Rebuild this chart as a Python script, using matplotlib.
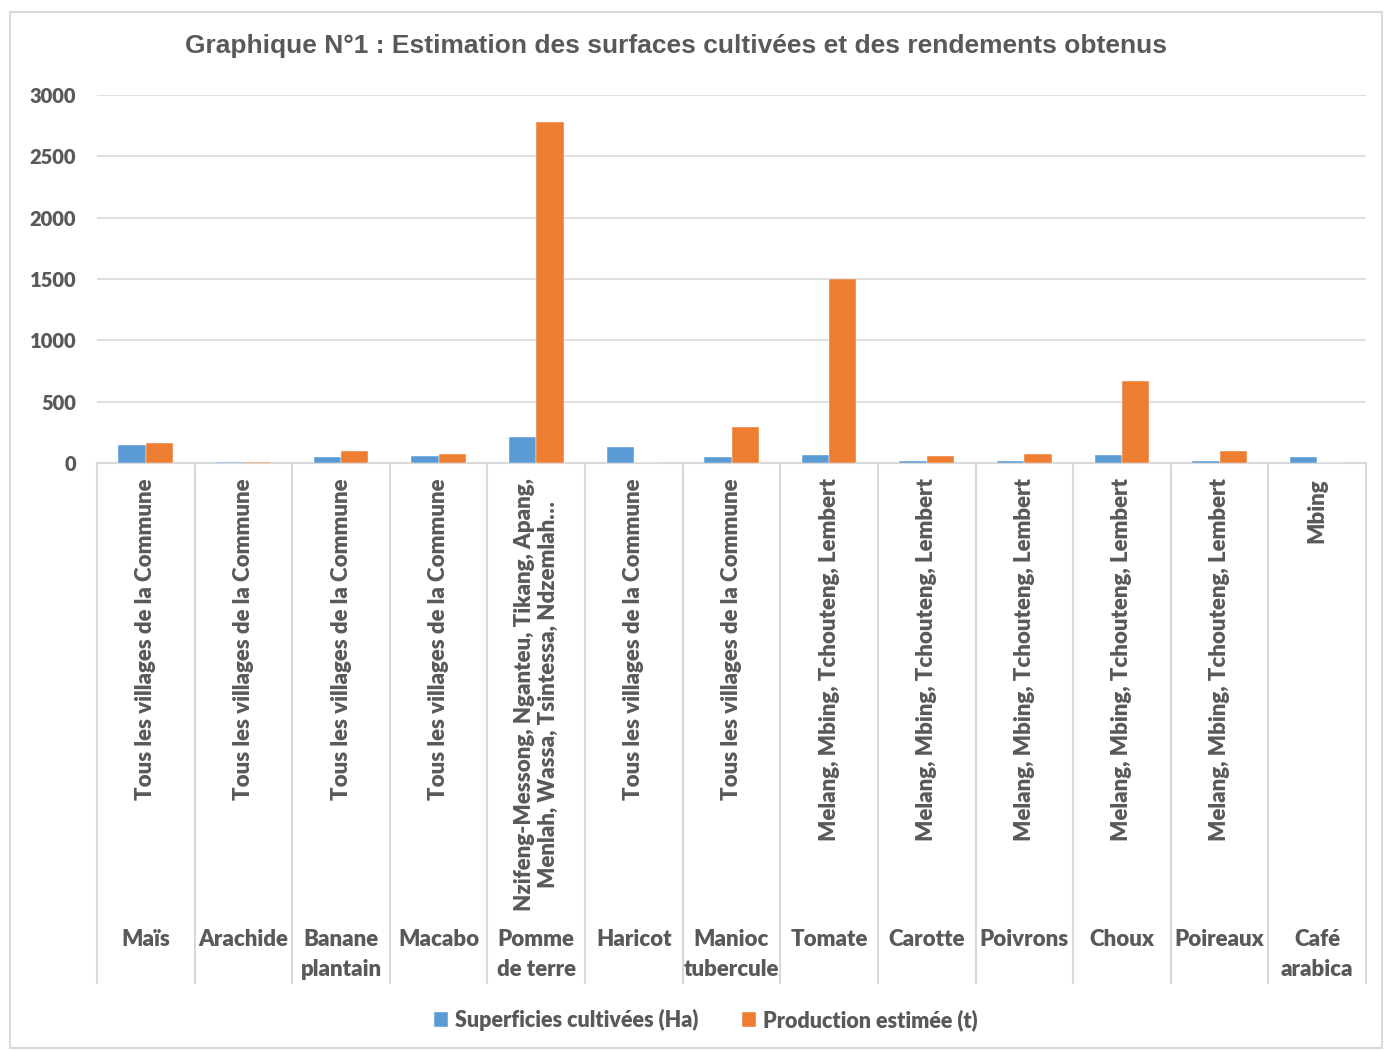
import matplotlib
matplotlib.use("Agg")
import matplotlib.pyplot as plt
from matplotlib.transforms import blended_transform_factory
from matplotlib.patches import Rectangle
import numpy as np

crops = ["Maïs", "Arachide", "Banane\nplantain", "Macabo", "Pomme\nde terre", "Haricot",
         "Manioc\ntubercule", "Tomate", "Carotte", "Poivrons", "Choux", "Poireaux", "Café\narabica"]
villages = ["Tous les villages de la Commune"] * 4 + [
    "Nzifeng-Messong, Nganteu, Tikang, Apang,\nMenlah, Wassa, Tsintessa, Ndzemlah…",
    "Tous les villages de la Commune", "Tous les villages de la Commune"] + [
    "Melang, Mbing, Tchouteng, Lembert"] * 5 + ["Mbing"]
surface = [143, 12, 46, 57, 209, 133, 46, 68, 13, 13, 65, 13, 46]
production = [163, 12, 100, 71, 2780, 0, 296, 1500, 57, 76, 665, 100, 0]
series_names = ["Superficies cultivées (Ha)", "Production estimée (t)"]
yticks = [0, 500, 1000, 1500, 2000, 2500, 3000]

BLUE = "#5B9BD5"
ORANGE = "#ED7D31"
GRID = "#D9D9D9"
TXT = "#595959"
W, H = 1385, 1050
FONT = "Lato"
WT = "heavy"

fig = plt.figure(figsize=(W / 100, H / 100), dpi=100)
fig.patches.append(Rectangle((10 / W, 2 / H), 1372 / W, 1036 / H, transform=fig.transFigure,
                             fill=False, edgecolor=GRID, linewidth=1.5))

ax = fig.add_axes([97 / W, 1 - 463 / H, (1366 - 97) / W, (463 - 95) / H])
n = len(crops)
x = np.arange(n)
bw = 0.28
ax.bar(x - bw / 2, surface, bw, color=BLUE, edgecolor="white", linewidth=0.3, label=series_names[0], zorder=3)
ax.bar(x + bw / 2, production, bw, color=ORANGE, edgecolor="white", linewidth=0.3, label=series_names[1], zorder=3)
ax.set_xlim(-0.5, n - 0.5)
ax.set_ylim(0, 3000)
ax.set_yticks(yticks)
ax.set_yticklabels([str(v) for v in yticks], fontsize=14.5, fontweight=WT, color=TXT, family=FONT)
ax.tick_params(axis="y", length=0, pad=15)
ax.set_xticks([])
ax.grid(axis="y", color=GRID, linewidth=1.2, zorder=0)
for s in ["top", "right", "left"]:
    ax.spines[s].set_visible(False)
ax.spines["bottom"].set_color(GRID)
ax.spines["bottom"].set_linewidth(1.5)

tr = blended_transform_factory(ax.transData, fig.transFigure)
for k in range(n + 1):
    ax.plot([k - 0.5, k - 0.5], [1 - 463 / H, 1 - 983 / H], color=GRID, linewidth=1.5,
            transform=tr, clip_on=False)
for i in range(n):
    ax.text(i, 1 - 478 / H, villages[i], rotation=90, ha="center", va="top", transform=tr,
            fontsize=16, fontweight=WT, color=TXT, family=FONT, linespacing=1.2,
            multialignment="center")
    ax.text(i, 1 - 929 / H, crops[i], ha="center", va="top", transform=tr,
            fontsize=16, fontweight=WT, color=TXT, family=FONT, linespacing=1.5)

fig.text(676 / W, 1 - 46 / H, "Graphique N°1 : Estimation des surfaces cultivées et des rendements obtenus",
         ha="center", va="center", fontsize=19, fontweight="bold", color=TXT, family="Liberation Sans")

leg = fig.legend(loc="center", bbox_to_anchor=(706 / W, 1 - 1020 / H), ncol=2, frameon=False,
                 prop={"family": FONT, "weight": WT, "size": 15.5}, handlelength=0.65,
                 handleheight=0.65, handletextpad=0.35, columnspacing=2.0)
for t in leg.get_texts():
    t.set_color(TXT)

fig.savefig("out.png", dpi=100)
